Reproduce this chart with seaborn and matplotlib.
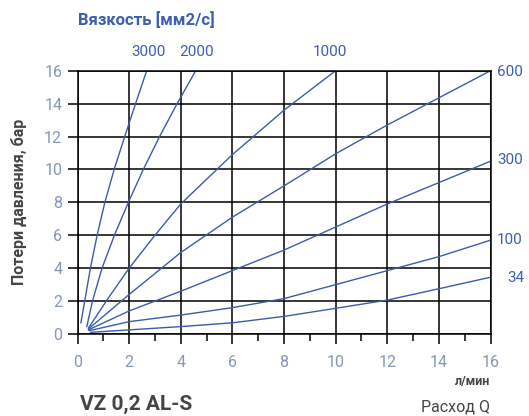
import matplotlib
matplotlib.use("Agg")
import matplotlib.pyplot as plt
import seaborn as sns
import pandas as pd
import numpy as np

# Data (flow Q, l/min -> pressure loss, bar)
visc_3000_x = [0.13, 0.28, 0.50, 0.76, 1.06, 1.42, 1.83, 2.25, 2.68]
visc_3000_y = [0.67, 2.0, 4.0, 6.0, 8.0, 10.0, 12.0, 14.0, 16.0]
visc_2000_x = [0.36, 0.58, 0.95, 1.43, 1.97, 2.55, 3.18, 3.86, 4.58]
visc_2000_y = [0.44, 2.0, 4.0, 6.0, 8.0, 10.0, 12.0, 14.0, 16.0]
visc_1000_x = [0.42, 1.2, 2.0, 3.0, 4.0, 6.0, 8.0, 10.0]
visc_1000_y = [0.35, 2.2, 4.0, 6.0, 7.9, 10.9, 13.6, 16.0]
visc_600_x = [0.42, 2, 4, 6, 8, 10, 12, 14, 16]
visc_600_y = [0.30, 2.4, 4.95, 7.1, 9.0, 10.95, 12.7, 14.35, 16.0]
visc_300_x = [0.42, 2, 4, 6, 8, 10, 12, 14, 16]
visc_300_y = [0.25, 1.4, 2.6, 3.85, 5.1, 6.5, 7.9, 9.2, 10.5]
visc_100_x = [0.45, 2, 4, 6, 8, 10, 12, 14, 16]
visc_100_y = [0.20, 0.75, 1.15, 1.6, 2.15, 3.0, 3.85, 4.7, 5.7]
visc_34_x = [0.5, 2, 4, 6, 8, 10, 12, 14, 16]
visc_34_y = [0.10, 0.25, 0.45, 0.68, 1.07, 1.56, 2.06, 2.75, 3.45]

series_names = ["3000", "2000", "1000", "600", "300", "100", "34"]
series_x = [visc_3000_x, visc_2000_x, visc_1000_x, visc_600_x, visc_300_x, visc_100_x, visc_34_x]
series_y = [visc_3000_y, visc_2000_y, visc_1000_y, visc_600_y, visc_300_y, visc_100_y, visc_34_y]

x_ticks = [0, 2, 4, 6, 8, 10, 12, 14, 16]
y_ticks = [0, 2, 4, 6, 8, 10, 12, 14, 16]

rows = []
for name, xs, ys in zip(series_names, series_x, series_y):
    for xv, yv in zip(xs, ys):
        rows.append({"visc": name, "Q": xv, "dp": yv})
df = pd.DataFrame(rows)

sns.set_theme(style="white")
plt.rcParams['font.family'] = ['Roboto', 'DejaVu Sans']

W, H = 529, 416
fig = plt.figure(figsize=(W / 100, H / 100), dpi=100)
ax = fig.add_axes([77.5 / W, (H - 334) / H, (490.5 - 77.5) / W, (334 - 70.7) / H])

line_color = "#3b5cab"
label_blue = "#3d5fb0"
tick_col = "#8497b8"
dark = "#454545"

sns.lineplot(data=df, x="Q", y="dp", hue="visc", hue_order=series_names,
             palette=[line_color] * len(series_names), linewidth=1.0,
             legend=False, ax=ax, sort=True, estimator=None)

ax.set_xlim(0, 16)
ax.set_ylim(0, 16)
ax.set_xticks(x_ticks)
ax.set_yticks(y_ticks)
ax.set_xticks(np.arange(1, 16, 2), minor=True)
ax.grid(True, which="major", color="black", linewidth=1.1)
ax.set_axisbelow(True)
for sp in ax.spines.values():
    sp.set_color("black")
    sp.set_linewidth(1.1)

ax.tick_params(axis="x", which="major", direction="out", length=7, width=1.1,
               color="black", labelcolor=tick_col, labelsize=11.5, pad=8, bottom=True)
ax.tick_params(axis="x", which="minor", direction="out", length=5, width=1.1,
               color="black", bottom=True)
ax.tick_params(axis="y", which="major", direction="out", length=7, width=1.1,
               color="black", labelcolor=tick_col, labelsize=11.5, pad=4, left=True)
ax.set_xlabel("")
ax.set_ylabel("Потери давления, бар", color=dark, fontsize=11.5, fontweight="bold", labelpad=12)

# viscosity labels
label_pos = {
    "3000": (148 / W, (H - 52) / H, "center"),
    "2000": (197 / W, (H - 52) / H, "center"),
    "1000": (330 / W, (H - 52) / H, "center"),
    "600": (497 / W, (H - 72) / H, "left"),
    "300": (497 / W, (H - 160) / H, "left"),
    "100": (497 / W, (H - 240) / H, "left"),
    "34": (507 / W, (H - 278) / H, "left"),
}
for name in series_names:
    px, py, ha = label_pos[name]
    fig.text(px, py, name, color=label_blue, fontsize=11, ha=ha, va="center")

fig.text(78 / W, (H - 20) / H, "Вязкость [мм2/с]", color=label_blue, fontsize=12,
         fontweight="bold", ha="left", va="center")
fig.text(490 / W, (H - 381) / H, "л/мин", color=dark, fontsize=9, fontweight="bold",
         ha="right", va="center")
fig.text(80 / W, (H - 404) / H, "VZ 0,2 AL-S", color=dark, fontsize=15, fontweight="bold",
         ha="left", va="center")
fig.text(490 / W, (H - 407) / H, "Расход Q", color=dark, fontsize=11.5,
         ha="right", va="center")

fig.savefig("out.png", dpi=100)
